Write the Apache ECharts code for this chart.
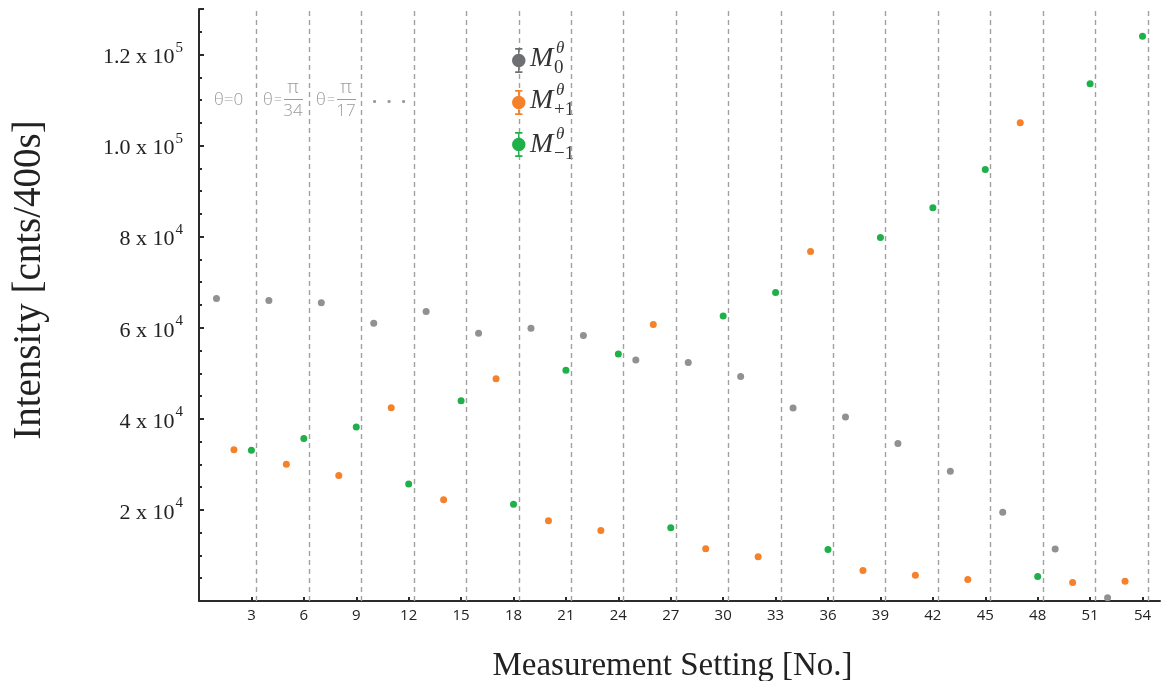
<!DOCTYPE html>
<html>
<head>
<meta charset="utf-8">
<script src="https://cdn.jsdelivr.net/npm/echarts@6/dist/echarts.min.js"></script>
<style>html,body{margin:0;padding:0;background:#fff}#c{width:1164px;height:681px}</style>
</head>
<body>
<div id="c"></div>
<script>
// ---- data ----
const m0X  = [1, 4, 7, 10, 13, 16, 19, 22, 25, 28, 31, 34, 37, 40, 43, 46, 49, 52];
const m0Y  = [66400, 66000, 65500, 61000, 63600, 58800, 59900, 58300, 52900, 52400, 49300, 42400, 40400, 34600, 28500, 19500, 11400, 700];
const mp1X = [2, 5, 8, 11, 14, 17, 20, 23, 26, 29, 32, 35, 38, 41, 44, 47, 50, 53];
const mp1Y = [33200, 30050, 27580, 42460, 22240, 48830, 17630, 15490, 60700, 11470, 9710, 76750, 6700, 5670, 4730, 105010, 4070, 4350];
const mm1X = [3, 6, 9, 12, 15, 18, 21, 24, 27, 30, 33, 36, 39, 42, 45, 48, 51, 54];
const mm1Y = [33080, 35710, 38200, 25670, 44000, 21270, 50660, 54240, 16080, 62590, 67730, 11320, 79820, 86340, 94770, 5380, 113580, 124000];
const xTickValues = [3, 6, 9, 12, 15, 18, 21, 24, 27, 30, 33, 36, 39, 42, 45, 48, 51, 54];
const groupSeparators = [3.3, 6.3, 9.3, 12.3, 15.3, 18.3, 21.3, 24.3, 27.3, 30.3, 33.3, 36.3, 39.3, 42.3, 45.3, 48.3, 51.3, 54.3];
const yTickLabels = {20000: ['2', '4'], 40000: ['4', '4'], 60000: ['6', '4'], 80000: ['8', '4'], 100000: ['1.0', '5'], 120000: ['1.2', '5']};
const seriesNames = ['M0', 'M+1', 'M-1'];

const colGray = '#919195', colOrange = '#f5822a', colGreen = '#20b04a';
const serif = 'Liberation Serif';
const sans = 'Open Sans';

function pairs(xs, ys) { return xs.map((x, i) => [x, ys[i]]); }

const iconPath = 'path://M3.5,0H10.5V1.6H7.7V22.4H10.5V24H3.5V22.4H6.3V1.6H3.5Z M13.5,12A6.5,6.5 0 1 1 0.5,12A6.5,6.5 0 1 1 13.5,12Z';

const chart = echarts.init(document.getElementById('c'), null, {renderer: 'canvas'});

function legendLabel(x, y, sub) {
  return {
    type: 'group', x: x, y: y, silent: true,
    children: [
      {type: 'text', x: 0, y: 0, style: {text: 'M', font: 'italic 28px "' + serif + '"', fill: '#333', textVerticalAlign: 'middle'}},
      {type: 'text', x: 26, y: -10, style: {text: 'θ', font: 'italic 17px "' + serif + '"', fill: '#333', textVerticalAlign: 'middle'}},
      {type: 'text', x: 24, y: 9, style: {text: sub, font: '19px "' + serif + '"', fill: '#333', textVerticalAlign: 'middle'}}
    ]
  };
}

const annColor = '#9a9a9a';
const annFont = '300 17px "' + sans + '"';
function frac(x, den) {
  return [
    {type: 'text', x: x + 1, y: 100, silent: true, style: {text: 'θ', font: annFont, fill: annColor, textVerticalAlign: 'middle'}},
    {type: 'text', x: x + 12, y: 100, silent: true, style: {text: '=', font: '300 14px "' + sans + '"', fill: annColor, textVerticalAlign: 'middle'}},
    {type: 'text', x: x + 31, y: 88, silent: true, style: {text: 'π', font: '300 19px "' + sans + '"', fill: annColor, textAlign: 'center', textVerticalAlign: 'middle'}},
    {type: 'line', silent: true, shape: {x1: x + 22, y1: 99.5, x2: x + 41, y2: 99.5}, style: {stroke: annColor, lineWidth: 1}},
    {type: 'text', x: x + 31, y: 111, silent: true, style: {text: den, font: annFont, fill: annColor, textAlign: 'center', textVerticalAlign: 'middle'}}
  ];
}

const graphics = [
  legendLabel(530, 59, '0'),
  legendLabel(530, 101, '+1'),
  legendLabel(530, 145, '−1'),
  {type: 'text', x: 214, y: 100, silent: true, style: {text: 'θ=0', font: annFont, fill: annColor, textVerticalAlign: 'middle'}},
].concat(frac(262, '34'), frac(315, '17'), [
  {type: 'text', x: 372, y: 103, silent: true, style: {text: '·  ·  ·', font: 'bold 18px "' + sans + '"', fill: annColor, textVerticalAlign: 'middle'}}
]);

const option = {
  animation: false,
  backgroundColor: '#fff',
  grid: {left: 199, right: 4, top: 9, bottom: 80, containLabel: false, outerBoundsMode: 'none'},
  legend: {
    orient: 'vertical', left: 507, top: 43,
    itemWidth: 14, itemHeight: 25, itemGap: 17,
    selectedMode: false,
    formatter: function () { return ' '; },
    textStyle: {fontSize: 10},
    data: [
      {name: seriesNames[0], icon: iconPath, itemStyle: {color: '#6e6f72', opacity: 1}},
      {name: seriesNames[1], icon: iconPath, itemStyle: {color: colOrange, opacity: 1}},
      {name: seriesNames[2], icon: iconPath, itemStyle: {color: colGreen, opacity: 1}}
    ]
  },
  xAxis: {
    type: 'value', min: 0, max: 55,
    axisLine: {show: true, onZero: false, lineStyle: {color: '#2b2b2b', width: 2}},
    axisTick: {show: true, inside: true, length: 4, lineStyle: {color: '#2b2b2b', width: 2}, customValues: xTickValues},
    axisLabel: {customValues: xTickValues, color: '#222', fontFamily: sans, fontSize: 15, margin: 7},
    splitLine: {show: false},
    name: 'Measurement Setting [No.]', nameLocation: 'middle', nameGap: 49,
    nameTextStyle: {fontFamily: serif, fontSize: 33, color: '#222', padding: [0, 14, 0, 0]}
  },
  yAxis: [{
    type: 'value', min: 0, max: 130000, interval: 20000,
    axisLine: {show: true, onZero: false, lineStyle: {color: '#2b2b2b', width: 2}},
    axisTick: {show: true, inside: true, length: 5, lineStyle: {color: '#2b2b2b', width: 2}},
    axisLabel: {
      margin: 16,
      formatter: function (v) {
        const t = yTickLabels[v];
        if (!t) return '';
        return '{n|' + t[0] + ' x 10}{s|' + t[1] + '}';
      },
      rich: {
        n: {fontFamily: serif, fontSize: 22, color: '#222', lineHeight: 28, verticalAlign: 'bottom'},
        s: {fontFamily: serif, fontSize: 15, color: '#222', lineHeight: 28, verticalAlign: 'top', padding: [0, 0, 0, 1]}
      }
    },
    splitLine: {show: false},
    name: 'Intensity [cnts/400s]', nameLocation: 'middle', nameGap: 150,
    nameTextStyle: {fontFamily: serif, fontSize: 39, color: '#222', padding: [0, 0, 0, 50]}
  }, {
    type: 'value', min: 0, max: 130000, interval: 5000, position: 'left',
    axisLine: {show: false},
    axisTick: {show: true, inside: true, length: 3, lineStyle: {color: '#2b2b2b', width: 2}},
    axisLabel: {show: false},
    splitLine: {show: false}
  }],
  series: [
    {
      name: seriesNames[0], type: 'scatter', symbol: 'circle', symbolSize: 7,
      itemStyle: {color: colGray, opacity: 1}, data: pairs(m0X, m0Y), z: 3,
      markLine: {
        silent: true, symbol: ['none', 'none'], label: {show: false},
        lineStyle: {color: '#a0a0a0', width: 1.4, type: [5, 4]},
        data: groupSeparators.map(v => ({xAxis: v})), z: 1
      }
    },
    {name: seriesNames[1], type: 'scatter', symbol: 'circle', symbolSize: 7, itemStyle: {color: colOrange, opacity: 1}, data: pairs(mp1X, mp1Y), z: 3},
    {name: seriesNames[2], type: 'scatter', symbol: 'circle', symbolSize: 7, itemStyle: {color: colGreen, opacity: 1}, data: pairs(mm1X, mm1Y), z: 3}
  ],
  graphic: graphics
};
chart.setOption(option);
</script>
</body>
</html>
